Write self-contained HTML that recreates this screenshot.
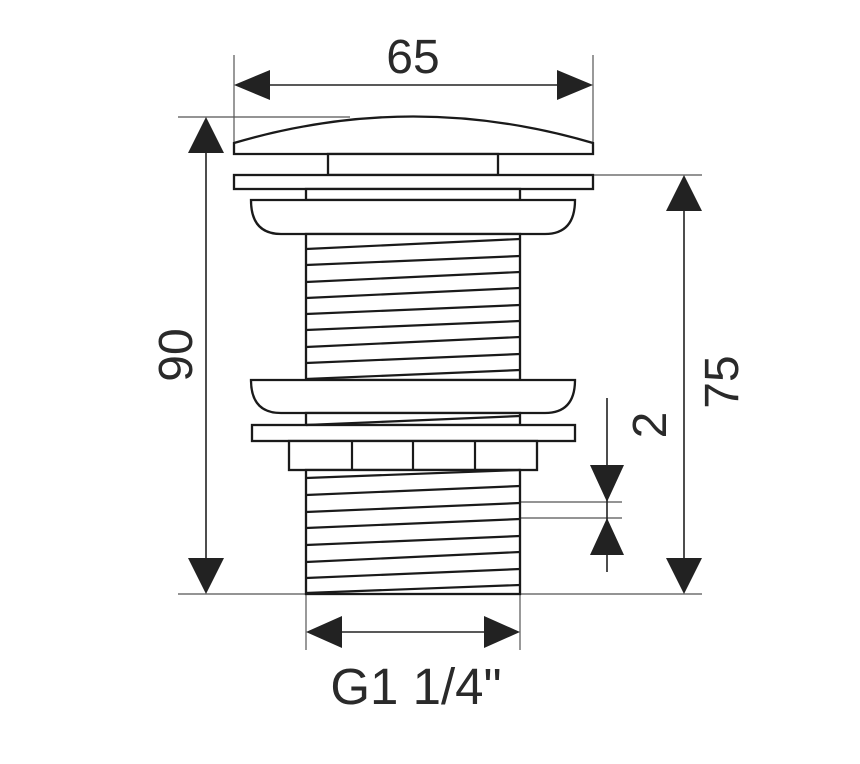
<!DOCTYPE html>
<html><head><style>html,body{margin:0;padding:0;background:#fff}svg{display:block}</style></head>
<body>
<svg width="860" height="764" viewBox="0 0 860 764" xmlns="http://www.w3.org/2000/svg">
<g fill="none" stroke="#555" stroke-width="1.2">
<line x1="234" y1="55" x2="234" y2="143"/><line x1="593" y1="55" x2="593" y2="154"/>
<line x1="178" y1="117" x2="350" y2="117"/><line x1="178" y1="594" x2="306" y2="594"/>
<line x1="593" y1="175" x2="702" y2="175"/><line x1="520" y1="594" x2="702" y2="594"/>
<line x1="520" y1="502" x2="622" y2="502"/><line x1="520" y1="518" x2="622" y2="518"/>
<line x1="306" y1="594" x2="306" y2="650"/><line x1="520" y1="594" x2="520" y2="650"/>
</g>
<g stroke="#222" stroke-width="1.6" fill="none">
<line x1="250" y1="85" x2="578" y2="85"/>
<line x1="206" y1="140" x2="206" y2="575"/>
<line x1="684" y1="200" x2="684" y2="575"/>
<line x1="607" y1="398" x2="607" y2="572"/>
<line x1="330" y1="632" x2="500" y2="632"/>
</g>
<g fill="#222">
<polygon points="234,85 270,70 270,100"/><polygon points="593,85 557,70 557,100"/>
<polygon points="206,117 188,153 224,153"/><polygon points="206,594 188,558 224,558"/>
<polygon points="684,175 666,211 702,211"/><polygon points="684,594 666,558 702,558"/>
<polygon points="607,502 590,465 624,465"/><polygon points="607,518 590,555 624,555"/>
<polygon points="306,632 342,616 342,648"/><polygon points="520,632 484,616 484,648"/>
</g>
<g stroke="#1a1a1a" stroke-width="2.3" fill="#fff">
<path d="M234,143 Q413,90 593,143 L593,154 L234,154 Z"/>
<rect x="328" y="154" width="170" height="21"/>
<rect x="234" y="175" width="359" height="14"/>
<rect x="306" y="189" width="214" height="11"/>
<path d="M251,200 L575,200 Q575,234 545,234 L281,234 Q251,234 251,200 Z"/>
<rect x="306" y="234" width="214" height="146"/>
<path d="M251,380 L575,380 Q575,413 545,413 L281,413 Q251,413 251,380 Z"/>
<rect x="306" y="413" width="214" height="12"/>
<rect x="252" y="425" width="323" height="16"/>
<rect x="289" y="441" width="248" height="29"/>
<rect x="306" y="470" width="214" height="124"/>
</g>
<g stroke="#1a1a1a" stroke-width="2.2">
<line x1="306" y1="249" x2="520" y2="239"/><line x1="306" y1="265" x2="520" y2="256"/>
<line x1="306" y1="282" x2="520" y2="272"/><line x1="306" y1="298" x2="520" y2="288"/>
<line x1="306" y1="314" x2="520" y2="305"/><line x1="306" y1="330" x2="520" y2="321"/>
<line x1="306" y1="347" x2="520" y2="337"/><line x1="306" y1="363" x2="520" y2="354"/>
<line x1="306" y1="379" x2="520" y2="370"/>
<line x1="306" y1="425" x2="520" y2="416"/>
<line x1="352" y1="441" x2="352" y2="470"/><line x1="413" y1="441" x2="413" y2="470"/><line x1="475" y1="441" x2="475" y2="470"/>
<line x1="306" y1="478" x2="520" y2="470"/>
<line x1="306" y1="495" x2="520" y2="486"/><line x1="306" y1="512" x2="520" y2="503"/>
<line x1="306" y1="528" x2="520" y2="519"/><line x1="306" y1="545" x2="520" y2="536"/>
<line x1="306" y1="562" x2="520" y2="552"/><line x1="306" y1="578" x2="520" y2="569"/>
<line x1="306" y1="593" x2="520" y2="585"/>
</g>
<g font-family="Liberation Sans, sans-serif" font-size="48" fill="#2a2a2a" text-anchor="middle">
<text x="413" y="73">65</text>
<text x="416" y="704" font-size="51">G1 1/4"</text>
<text transform="translate(192,355) rotate(-90)">90</text>
<text transform="translate(738,382) rotate(-90)">75</text>
<text transform="translate(666,425) rotate(-90)">2</text>
</g>
</svg>
</body></html>
